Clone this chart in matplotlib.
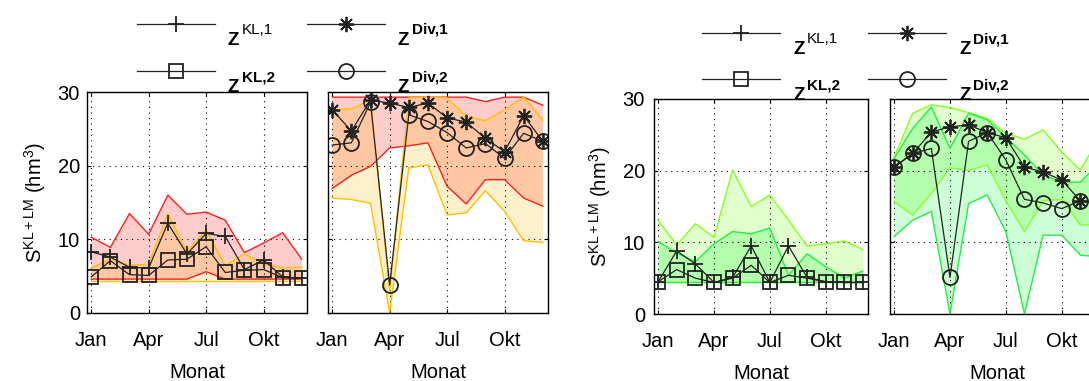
import numpy as np
import matplotlib
matplotlib.use('Agg')
import matplotlib.pyplot as plt
from matplotlib.lines import Line2D

plt.rcParams['font.family'] = ['Liberation Sans', 'DejaVu Sans']
plt.rcParams['mathtext.default'] = 'regular'

# Daten (Speicherinhalt in hm^3 je Monat)
monate = np.arange(1, 13)
tick_pos = [1, 4, 7, 10]
tick_lab = ['Jan', 'Apr', 'Jul', 'Okt']

# linke Gruppe, Szenario KL
kl_rot_oben = [10.3, 8.9, 13.5, 10.7, 16.0, 13.4, 13.7, 12.6, 8.2, 9.5, 10.9, 7.3]
kl_rot_unten = [4.6, 4.6, 4.6, 4.6, 4.6, 4.6, 5.6, 4.6, 4.6, 4.6, 4.6, 4.6]
kl_gelb_oben = [6.1, 7.3, 6.5, 6.6, 13.5, 8.3, 11.3, 6.4, 8.0, 6.7, 6.1, 6.2]
kl_gelb_unten = [4.4, 4.4, 4.4, 4.4, 4.4, 4.4, 4.4, 4.4, 4.4, 4.4, 4.4, 4.4]
kl1_a = [8.3, 7.6, 6.2, 6.1, 12.2, 8.0, 10.8, 10.4, 5.9, 7.2, 4.9, 4.7]
kl2_a = [4.9, 7.1, 5.2, 5.1, 7.2, 7.3, 9.0, 5.5, 5.8, 5.9, 4.8, 4.7]

# linke Gruppe, Szenario Div
div_rot_oben = [29.3, 29.3, 29.3, 29.3, 29.3, 29.3, 29.3, 29.3, 28.7, 29.3, 29.3, 28.2]
div_rot_unten = [16.9, 18.7, 19.9, 22.4, 22.7, 23.1, 17.2, 14.8, 18.1, 18.1, 15.6, 14.5]
div_gelb_oben = [27.6, 27.7, 28.9, 3.0, 29.2, 29.3, 29.2, 26.7, 26.1, 27.6, 29.3, 26.2]
div_gelb_unten = [15.6, 15.4, 14.9, 0.0, 19.7, 20.1, 13.3, 13.6, 16.6, 13.8, 9.8, 9.6]
div1_a = [27.6, 24.7, 28.9, 28.5, 27.9, 28.5, 26.5, 25.9, 23.7, 21.9, 26.8, 23.3]
div2_a = [22.8, 23.1, 28.6, 3.8, 26.9, 26.0, 24.5, 22.4, 23.0, 21.0, 24.4, 23.3]

# rechte Gruppe, Szenario KL
kl_hell_oben = [13.1, 9.6, 12.6, 10.7, 20.1, 15.0, 16.6, 13.1, 9.5, 9.8, 10.2, 9.0]
kl_hell_unten = [4.5, 4.5, 4.5, 4.5, 4.5, 4.5, 4.5, 4.5, 4.5, 4.5, 4.5, 4.5]
kl_gruen_oben = [10.1, 8.5, 7.3, 9.8, 11.5, 11.2, 12.0, 5.4, 8.4, 6.6, 5.0, 6.0]
kl_gruen_unten = [4.4, 4.4, 4.4, 4.4, 4.4, 4.4, 4.4, 4.4, 4.4, 4.4, 4.4, 4.4]
kl1_b = [4.5, 8.8, 7.0, 4.4, 5.1, 9.5, 4.4, 9.5, 5.1, 4.5, 4.4, 4.4]
kl2_b = [4.5, 6.2, 5.0, 4.4, 5.0, 6.8, 4.4, 5.4, 5.0, 4.5, 4.4, 4.4]

# rechte Gruppe, Szenario Div
div_hell_oben = [21.9, 28.0, 29.2, 28.8, 28.1, 27.3, 25.2, 24.4, 25.7, 22.6, 20.1, 24.5]
div_hell_unten = [15.7, 13.8, 16.8, 20.4, 20.0, 20.8, 15.8, 11.5, 15.8, 16.0, 12.4, 12.5]
div_gruen_oben = [21.7, 25.9, 28.9, 23.1, 28.0, 27.1, 24.7, 22.2, 19.4, 18.4, 18.4, 21.0]
div_gruen_unten = [10.8, 13.1, 14.3, 0.0, 15.4, 16.6, 11.5, 0.0, 11.0, 11.0, 8.2, 8.0]
div1_b = [20.5, 22.4, 25.4, 26.1, 26.4, 25.3, 24.6, 20.5, 19.8, 18.7, 15.8, 15.5]
div2_b = [20.5, 22.4, 23.1, 5.1, 24.1, 25.3, 21.5, 16.0, 15.5, 14.7, 15.8, 15.5]

W, H = 1089, 381
fig = plt.figure(figsize=(W / 100, H / 100), dpi=100)

LINE = '#222222'
STIL = {'+': ('+', 11.3), 's': ('s', 9.6), '*': ((8, 2, 0), 11), 'o': ('o', 10.8)}


def achse(l, t, r, b):
    return fig.add_axes([l / W, 1 - b / H, (r - l) / W, (b - t) / H])


def band(ax, unten, oben, farbe, kante):
    ax.fill_between(monate, unten, oben, facecolor=farbe, alpha=0.2, edgecolor='none')
    ax.plot(monate, oben, color=kante, lw=1)
    ax.plot(monate, unten, color=kante, lw=1)


def serie(ax, y, m):
    marker, ms = STIL[m]
    ax.plot(monate, y, color=LINE, lw=0.9, marker=marker, ms=ms,
            mfc='none', mec=LINE, mew=1.3)


def stil(ax, ylabel, ypad):
    ax.set_xlim(0.78, 12.27)
    ax.set_ylim(0, 30)
    ax.set_xticks(tick_pos, tick_lab)
    ax.set_yticks([0, 10, 20, 30])
    ax.grid(True, color='k', linestyle=(0, (1, 4)), linewidth=0.8)
    ax.tick_params(direction='in', length=3, top=True, right=True, labelsize=14.5)
    ax.tick_params(axis='x', pad=13)
    ax.tick_params(axis='y', pad=ypad)
    for s in ax.spines.values():
        s.set_linewidth(1.0)
    ax.set_xlabel('Monat', fontsize=14.5, labelpad=9)
    if ylabel:
        ax.set_ylabel(r'$S^{KL+LM}$ (hm$^3$)', fontsize=14.5, labelpad=7)
    else:
        ax.set_yticklabels([])


ax1 = achse(87, 92, 307, 313)
band(ax1, kl_rot_unten, kl_rot_oben, 'red', '#ff2020')
band(ax1, kl_gelb_unten, kl_gelb_oben, '#ffb400', '#ffc000')
serie(ax1, kl1_a, '+')
serie(ax1, kl2_a, 's')
stil(ax1, True, 5)

ax2 = achse(328, 92, 548, 313)
band(ax2, div_rot_unten, div_rot_oben, 'red', '#ff2020')
band(ax2, div_gelb_unten, div_gelb_oben, '#ffb400', '#ffc000')
serie(ax2, div1_a, '*')
serie(ax2, div2_a, 'o')
stil(ax2, False, 5)

ax3 = achse(654, 99, 868, 314)
band(ax3, kl_hell_unten, kl_hell_oben, '#66ff00', '#88ff22')
band(ax3, kl_gruen_unten, kl_gruen_oben, '#00ff33', '#22ee44')
serie(ax3, kl1_b, '+')
serie(ax3, kl2_b, 's')
stil(ax3, True, 6.5)

ax4 = achse(890, 99, 1104, 314)
band(ax4, div_hell_unten, div_hell_oben, '#66ff00', '#88ff22')
band(ax4, div_gruen_unten, div_gruen_oben, '#00ff33', '#22ee44')
serie(ax4, div1_b, '*')
serie(ax4, div2_b, 'o')
stil(ax4, False, 6.5)


def eintrag(x0, x1, y, m, sup, fett):
    fy = 1 - y / H
    fig.add_artist(Line2D([x0 / W, x1 / W], [fy, fy], color=LINE, lw=0.9))
    marker, ms = STIL[m]
    fig.add_artist(Line2D([(x0 + x1) / 2 / W], [fy], marker=marker, ms=ms,
                          mfc='none', mec=LINE, mew=1.3, ls='none'))
    tx = x1 + 13
    fig.text(tx / W, 1 - (y + 21) / H, 'Z', fontsize=13.5, fontweight='bold',
             va='baseline', ha='left')
    fig.text((tx + 14) / W, 1 - (y + 10) / H, sup, fontsize=11,
             fontweight='bold' if fett else 'normal', va='baseline', ha='left')


for (xa, xb, y1, y2) in [(137, 307, 24, 71), (702, 868, 33, 79)]:
    eintrag(xa, xa + 78, y1, '+', 'KL,1', False)
    eintrag(xb, xb + 78, y1, '*', 'Div,1', True)
    eintrag(xa, xa + 78, y2, 's', 'KL,2', True)
    eintrag(xb, xb + 78, y2, 'o', 'Div,2', True)

fig.savefig('out.png', dpi=100)
